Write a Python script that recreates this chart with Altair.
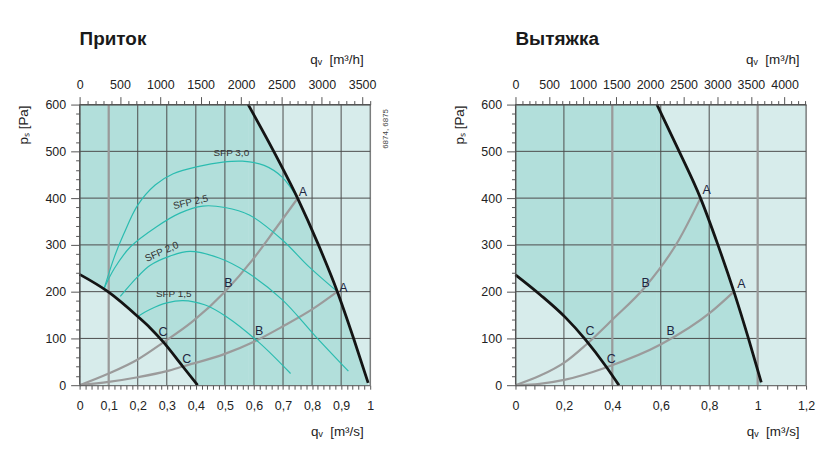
import altair as alt
import pandas as pd

FONT = "Liberation Sans"
LIGHT = "#d7eceb"
DARK = "#b2dfdb"
GRID = "#4d4d4d"
THICK = "#9a9a9a"
SYS = "#9b9b9b"
TEAL = "#2bbcb0"
BLACK = "#141414"
TXT = "#1e2640"

# ---------------- Приток (left panel) ----------------
L_MAX_Q = [0.58, 0.668, 0.75, 0.822, 0.887, 0.943, 0.993]
L_MAX_P = [600, 500, 400, 300, 200, 100, 5]
L_MIN_Q = [0.0, 0.1, 0.2, 0.242, 0.287, 0.355, 0.406]
L_MIN_P = [237, 199, 147, 123, 93, 40, 0]
L_SYS1_Q = [0, 0.1, 0.2, 0.287, 0.39, 0.5, 0.595, 0.675, 0.751]
L_SYS1_P = [0, 25, 55, 91, 137, 200, 268, 335, 400]
L_SYS2_Q = [0, 0.1, 0.2, 0.3, 0.355, 0.5, 0.6, 0.7, 0.8, 0.887]
L_SYS2_P = [0, 7, 17, 30, 40, 67, 93, 126, 162, 200]
SFP30_Q = [0.085, 0.12, 0.151, 0.2, 0.26, 0.322, 0.41, 0.493, 0.56, 0.635, 0.697, 0.751]
SFP30_P = [208, 275, 322, 385, 428, 452, 468, 477, 479, 470, 445, 399]
SFP25_Q = [0.085, 0.12, 0.175, 0.265, 0.345, 0.424, 0.5, 0.584, 0.697, 0.788, 0.887]
SFP25_P = [208, 250, 296, 339, 368, 383, 380, 364, 311, 254, 200]
SFP20_Q = [0.14, 0.2, 0.242, 0.311, 0.38, 0.48, 0.572, 0.697, 0.811, 0.925]
SFP20_P = [190, 232, 256, 276, 286, 272, 243, 183, 105, 30]
SFP15_Q = [0.2, 0.242, 0.3, 0.356, 0.43, 0.504, 0.618, 0.726]
SFP15_P = [147, 162, 176, 181, 172, 147, 91, 25]
L_THICK = [0.1]
L_PT_TEXT = ["A", "A", "B", "B", "C", "C"]
L_PT_Q = [0.768, 0.908, 0.512, 0.618, 0.287, 0.369]
L_PT_P = [412, 208, 219, 115, 113, 57]
SFP_TEXT = ["SFP 3,0", "SFP 2,5", "SFP 2,0", "SFP 1,5"]
SFP_Q = [0.522, 0.382, 0.283, 0.324]
SFP_P = [496, 391, 285, 196]
SFP_ANG = [0, 347, 336, 0]

# ---------------- Вытяжка (right panel) ----------------
R_MAX_Q = [0.584, 0.674, 0.764, 0.836, 0.902, 0.962, 1.015]
R_MAX_P = [600, 502, 400, 300, 200, 100, 6]
R_MIN_Q = [0.0, 0.103, 0.206, 0.288, 0.374, 0.427]
R_MIN_P = [236, 193, 145, 98, 40, 0]
R_SYS1_Q = [0, 0.1, 0.206, 0.288, 0.4, 0.537, 0.674, 0.764]
R_SYS1_P = [0, 20, 50, 85, 140, 211, 310, 400]
R_SYS2_Q = [0, 0.1, 0.206, 0.374, 0.603, 0.804, 0.902]
R_SYS2_P = [0, 3, 12, 38, 88, 155, 200]
R_THICK = [0.4, 1.0]
R_PT_TEXT = ["A", "A", "B", "B", "C", "C"]
R_PT_Q = [0.789, 0.933, 0.538, 0.641, 0.308, 0.395]
R_PT_P = [417, 217, 219, 115, 115, 57]

# axis ticks
L_XTICKS = [round(i * 0.02, 2) for i in range(51)]
L_XGRID = [round(i * 0.1, 1) for i in range(11)]
R_XTICKS = [round(i * 0.04, 2) for i in range(31)]
R_XGRID = [round(i * 0.2, 1) for i in range(7)]
YTICKS = list(range(0, 601, 20))
YGRID = list(range(100, 601, 100))
L_HTICKS = list(range(0, 3601, 100))
R_HTICKS = list(range(0, 4301, 100))

W, H = 292, 282
NB = "\u00a0"


def panel(title, xmax, hmax, xticks, xgrid, xmajor, hticks, hlabmax,
          maxq, maxp, minq, minp, systems, sfps, thick, pts, sfp_labels, note):
    xs = alt.Scale(domain=[0, xmax], nice=False, zero=False)
    ys = alt.Scale(domain=[0, 600], nice=False, zero=False)
    mt = f"abs(datum.value/{xmajor} - round(datum.value/{xmajor})) < 1e-6"
    x_axis = alt.Axis(
        orient="bottom", values=xticks,
        labelExpr=f"{mt} ? replace(format(datum.value, '.1~f'), '.', ',') : ''",
        tickSize=4, labelPadding=10, labelFontSize=12.5, labelFont=FONT,
        labelColor="#222", labelFlush=False, labelOverlap=False,
        domainColor="#555", tickColor="#555", grid=False, zindex=1,
        title=f"qᵥ{NB}{NB}[m³/s]", titleX=285, titleY=51, titleAlign="right",
        titleBaseline="alphabetic", titleFont=FONT, titleFontSize=13.5,
        titleFontWeight="normal", titleColor="#222")
    y_axis = alt.Axis(
        orient="left", values=YTICKS,
        labelExpr="datum.value % 100 === 0 ? format(datum.value, 'd') : ''",
        tickSize={"condition": {"test": "datum.value % 100 === 0", "value": 9}, "value": 4},
        labelPadding=5, labelFontSize=12.5, labelFont=FONT, labelColor="#222",
        labelFlush=False, labelOverlap=False, domainColor="#555", tickColor="#555",
        grid=False, zindex=1,
        title=f"pₛ{NB}[Pa]", titleX=-56, titleY=20, titleAngle=270, titleAlign="center",
        titleBaseline="middle", titleFont=FONT, titleFontSize=13.5,
        titleFontWeight="normal", titleColor="#222")
    X = alt.X("q:Q", scale=xs, axis=x_axis)
    Y = alt.Y("p:Q", scale=ys, axis=y_axis)

    bg = alt.Chart(pd.DataFrame({"q": [0], "q2": [xmax], "p": [0], "p2": [600]})).mark_rect(
        color=LIGHT).encode(x=X, x2="q2", y=Y, y2="p2")
    drect = alt.Chart(pd.DataFrame({"q": [0], "q2": [maxq[0]], "p": [0], "p2": [600]})).mark_rect(
        color=DARK).encode(x=X, x2="q2", y=Y, y2="p2")
    darea = alt.Chart(pd.DataFrame({"q": maxq, "p": maxp, "p0": [0] * len(maxq)})).mark_area(
        color=DARK, interpolate="monotone").encode(x=X, y=Y, y2="p0")
    larea = alt.Chart(pd.DataFrame({"q": minq, "p": minp, "p0": [0] * len(minq)})).mark_area(
        color=LIGHT, interpolate="monotone").encode(x=X, y=Y, y2="p0")
    vg = alt.Chart(pd.DataFrame({"q": xgrid})).mark_rule(color=GRID, strokeWidth=1).encode(x=X)
    hg = alt.Chart(pd.DataFrame({"p": YGRID})).mark_rule(color=GRID, strokeWidth=1).encode(y=Y)
    th = alt.Chart(pd.DataFrame({"q": thick})).mark_rule(color=THICK, strokeWidth=2.2).encode(x=X)

    rows = []
    for i, (qq, pp) in enumerate(systems):
        rows += [{"q": a, "p": b, "id": f"s{i}"} for a, b in zip(qq, pp)]
    sysl = alt.Chart(pd.DataFrame(rows)).mark_line(
        color=SYS, strokeWidth=2.2, interpolate="monotone").encode(x=X, y=Y, detail="id:N")
    layers = [bg, drect, darea, larea, vg, hg, th, sysl]
    if sfps:
        rows = []
        for i, (qq, pp) in enumerate(sfps):
            rows += [{"q": a, "p": b, "id": f"f{i}"} for a, b in zip(qq, pp)]
        layers.append(alt.Chart(pd.DataFrame(rows)).mark_line(
            color=TEAL, strokeWidth=1.2, interpolate="catmull-rom").encode(x=X, y=Y, detail="id:N"))
    rows = [{"q": a, "p": b, "id": "max"} for a, b in zip(maxq, maxp)] + \
           [{"q": a, "p": b, "id": "min"} for a, b in zip(minq, minp)]
    layers.append(alt.Chart(pd.DataFrame(rows)).mark_line(
        color=BLACK, strokeWidth=2.8, interpolate="monotone").encode(x=X, y=Y, detail="id:N"))
    layers.append(alt.Chart(pd.DataFrame({"t": pts[0], "q": pts[1], "p": pts[2]})).mark_text(
        font=FONT, fontSize=12.5, color=TXT).encode(x=X, y=Y, text="t:N"))
    if sfp_labels:
        layers.append(alt.Chart(pd.DataFrame(
            {"t": sfp_labels[0], "q": sfp_labels[1], "p": sfp_labels[2], "a": sfp_labels[3]})).mark_text(
            font=FONT, fontSize=10, color="#333").encode(
            x=X, y=Y, text="t:N", angle=alt.Angle("a:Q", scale=None)))
    if note:
        layers.append(alt.Chart(pd.DataFrame({"t": [note[0]], "q": [note[1]], "p": [note[2]]})).mark_text(
            font=FONT, fontSize=8, color="#444", angle=270).encode(x=X, y=Y, text="t:N"))

    top_axis = alt.Axis(
        orient="top", values=hticks,
        labelExpr=f"datum.value % 500 === 0 && datum.value <= {hlabmax} ? format(datum.value, 'd') : ''",
        tickSize={"condition": {"test": "datum.value % 500 === 0", "value": 8}, "value": 4},
        labelPadding=5, labelFontSize=12.5, labelFont=FONT, labelColor="#222",
        labelFlush=False, labelOverlap=False, domainColor="#555", tickColor="#555",
        grid=False, zindex=1,
        title=f"qᵥ{NB}{NB}[m³/h]", titleX=285, titleY=-41, titleAlign="right",
        titleBaseline="alphabetic", titleFont=FONT, titleFontSize=13.5,
        titleFontWeight="normal", titleColor="#222")
    top = alt.Chart(pd.DataFrame({"h": [0, hmax]})).mark_point(opacity=0).encode(
        x=alt.X("h:Q", scale=alt.Scale(domain=[0, hmax], nice=False, zero=False), axis=top_axis))

    return alt.layer(alt.layer(*layers), top).resolve_scale(x="independent").properties(
        width=W, height=H,
        title=alt.TitleParams(text=title, anchor="start", frame="group", fontSize=19,
                              fontWeight="bold", font=FONT, color="#1a1a1a", offset=4))


left = panel("Приток", 1.0, 3600, L_XTICKS, L_XGRID, 0.1, L_HTICKS, 3500,
             L_MAX_Q, L_MAX_P, L_MIN_Q, L_MIN_P,
             [(L_SYS1_Q, L_SYS1_P), (L_SYS2_Q, L_SYS2_P)],
             [(SFP30_Q, SFP30_P), (SFP25_Q, SFP25_P), (SFP20_Q, SFP20_P), (SFP15_Q, SFP15_P)],
             L_THICK, (L_PT_TEXT, L_PT_Q, L_PT_P), (SFP_TEXT, SFP_Q, SFP_P, SFP_ANG),
             ("6874, 6875", 1.055, 548))
right = panel("Вытяжка", 1.2, 4320, R_XTICKS, R_XGRID, 0.2, R_HTICKS, 4000,
              R_MAX_Q, R_MAX_P, R_MIN_Q, R_MIN_P,
              [(R_SYS1_Q, R_SYS1_P), (R_SYS2_Q, R_SYS2_P)],
              None, R_THICK, (R_PT_TEXT, R_PT_Q, R_PT_P), None, None)

chart = alt.hconcat(left, right, spacing=146, bounds="flush").properties(
    padding={"left": 16, "top": 28, "right": 3, "bottom": 5},
    background="white"
).configure_view(stroke=None).configure(font=FONT)

chart.save("out.html", embed_options={"renderer": "svg", "actions": False})
